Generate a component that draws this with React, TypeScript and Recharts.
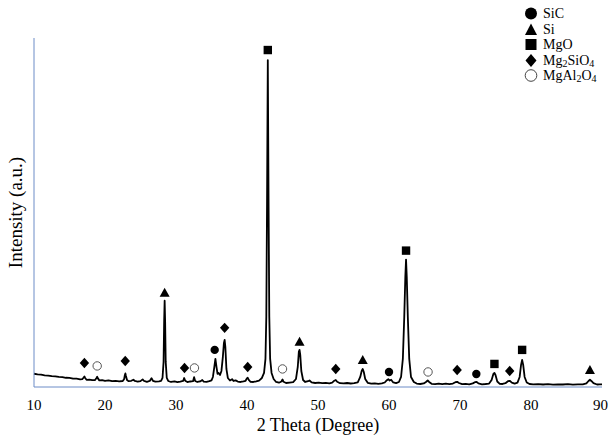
import React from 'react'
import { ComposedChart, Line, Scatter, XAxis, YAxis, Legend } from 'recharts'

// XRD pattern: [2theta, intensity (a.u.)]
const pattern: [number, number][] = [
  [10, 13.2], [10.5, 12.6], [11, 12.3], [11.5, 11.6], [12, 11.4], [12.5, 10.8], [13, 10.6], [13.5, 10.0],
  [14, 9.9], [14.5, 9.2], [15, 9.1], [15.5, 8.4], [16, 8.3], [16.5, 7.7], [16.8, 7.9], [17.0, 9.5],
  [17.1, 10.5], [17.2, 9.0], [17.4, 7.2], [17.8, 7.4], [18.2, 6.8], [18.6, 7.0], [18.8, 9.0], [18.9, 10.2],
  [19.0, 8.6], [19.2, 6.6], [19.6, 6.9], [20.0, 6.2], [20.5, 6.6], [21.0, 5.9], [21.5, 6.2], [22.0, 5.7],
  [22.5, 6.0], [22.7, 8.0], [22.8, 12.0], [22.87, 13.5], [22.95, 11.0], [23.1, 7.0], [23.3, 5.8], [23.7, 6.2],
  [24.0, 7.3], [24.2, 6.0], [24.6, 5.4], [25.0, 5.9], [25.3, 7.6], [25.5, 6.0], [25.9, 5.2], [26.3, 6.0],
  [26.55, 8.8], [26.75, 6.2], [27.1, 5.3], [27.6, 5.6], [27.9, 6.0], [28.1, 9], [28.25, 25], [28.33, 65],
  [28.4, 86], [28.47, 65], [28.55, 25], [28.7, 9], [28.9, 6], [29.3, 5.0], [29.8, 5.6], [30.2, 4.9],
  [30.6, 5.4], [31.0, 6.0], [31.15, 9.0], [31.3, 6.2], [31.6, 4.9], [32.0, 5.5], [32.4, 5.8], [32.55, 9.8],
  [32.7, 6.0], [33.0, 5.0], [33.4, 5.6], [33.7, 7.0], [33.9, 5.4], [34.3, 5.2], [34.7, 5.8], [35.0, 6.6],
  [35.2, 10], [35.4, 20], [35.55, 28], [35.7, 20], [35.85, 13], [36.0, 14], [36.2, 12], [36.4, 16],
  [36.6, 30], [36.75, 44], [36.85, 47], [36.95, 40], [37.1, 18], [37.3, 9], [37.6, 6.5], [37.9, 7.8],
  [38.1, 6.0], [38.4, 6.6], [38.7, 5.4], [39.1, 5.0], [39.5, 5.6], [39.8, 6.2], [40.0, 8.8], [40.1, 9.2],
  [40.25, 7.0], [40.5, 5.2], [40.9, 5.0], [41.3, 5.6], [41.7, 6.4], [42.1, 9], [42.4, 14], [42.6, 28],
  [42.72, 70], [42.82, 180], [42.93, 326], [43.04, 180], [43.14, 70], [43.26, 28], [43.46, 14], [43.75, 8],
  [44.1, 5], [44.5, 4.3], [44.85, 5.5], [45.0, 7.5], [45.15, 5.2], [45.5, 4.0], [46.0, 4.4], [46.5, 4.8],
  [46.9, 8], [47.15, 20], [47.3, 35], [47.4, 37], [47.5, 32], [47.65, 16], [47.9, 7], [48.2, 5],
  [48.6, 5.8], [48.8, 6.5], [49.1, 4.6], [49.6, 4.0], [50.1, 4.3], [50.6, 3.8], [51.1, 4.1], [51.6, 3.7],
  [52.0, 4.4], [52.3, 6.3], [52.5, 7.0], [52.7, 5.2], [53.1, 3.8], [53.6, 3.6], [54.1, 4.0], [54.6, 3.5],
  [55.1, 3.8], [55.6, 4.6], [55.95, 10], [56.15, 16], [56.3, 18], [56.45, 15], [56.65, 8], [57.0, 4.2],
  [57.5, 3.4], [58.0, 3.7], [58.5, 3.2], [59.0, 3.6], [59.4, 4.5], [59.7, 6.8], [59.9, 7.8], [60.1, 6.5],
  [60.3, 7.2], [60.6, 4.5], [61.0, 3.8], [61.4, 5], [61.7, 10], [61.95, 28], [62.15, 70], [62.3, 110],
  [62.4, 127], [62.5, 110], [62.65, 70], [62.85, 28], [63.1, 10], [63.5, 5], [63.9, 3.4], [64.4, 3.0],
  [64.9, 3.6], [65.25, 5.2], [65.45, 6.5], [65.65, 5.0], [66.0, 3.2], [66.5, 2.8], [67.0, 3.4], [67.5, 2.9],
  [68.0, 3.3], [68.5, 2.9], [69.0, 3.4], [69.35, 4.8], [69.6, 5.2], [69.85, 4.0], [70.3, 2.8], [70.8, 3.2],
  [71.3, 2.7], [71.8, 3.6], [72.1, 4.8], [72.35, 5.0], [72.6, 3.6], [73.1, 2.7], [73.6, 3.0], [74.1, 3.4],
  [74.45, 7], [74.7, 13], [74.85, 14], [75.0, 12], [75.25, 5.5], [75.6, 3.2], [76.0, 3.0], [76.4, 3.8],
  [76.75, 5.8], [77.0, 6.2], [77.3, 4.4], [77.7, 3.4], [78.1, 4.4], [78.4, 10], [78.6, 22], [78.75, 27],
  [78.9, 22], [79.1, 10], [79.4, 4.5], [79.8, 3.0], [80.3, 2.7], [81, 2.9], [81.7, 2.5], [82.4, 2.8],
  [83.1, 2.4], [83.8, 2.7], [84.5, 2.5], [85.2, 2.8], [85.9, 2.4], [86.6, 2.7], [87.3, 2.6], [87.8, 3.6],
  [88.1, 6], [88.3, 7.2], [88.5, 6], [88.8, 3.8], [89.3, 2.5], [89.7, 2.7], [90, 2.6],
]

// phase markers: [2theta, marker height]
const sicPeaks: [number, number][] = [[35.45, 37], [60.0, 15], [72.3, 13]]
const siPeaks: [number, number][] = [[28.4, 94], [47.4, 45], [56.3, 27], [88.3, 17]]
const mgoPeaks: [number, number][] = [[42.93, 336], [62.4, 136], [74.85, 23], [78.75, 37]]
const mg2sio4Peaks: [number, number][] = [
  [17.1, 24], [22.85, 26], [31.2, 19], [36.85, 59], [40.1, 20], [52.5, 18], [69.6, 17], [77.0, 16],
]
const mgal2o4Peaks: [number, number][] = [[18.9, 21], [32.6, 19], [45.0, 18], [65.5, 15]]

const phaseNames = ['SiC', 'Si', 'MgO', 'Mg2SiO4', 'MgAl2O4']
const xTicks = [10, 20, 30, 40, 50, 60, 70, 80, 90]

const toRows = (pts: [number, number][]) => pts.map(([t, i]) => ({ t, i }))

const FONT = '"Liberation Serif", "Times New Roman", serif'
const AXIS = '#6d8cc7'

const DotShape = (p: any) => <circle cx={p.cx} cy={p.cy} r={4.2} fill="#000" />
const TriShape = (p: any) => (
  <polygon points={`${p.cx},${p.cy - 5} ${p.cx - 5},${p.cy + 4} ${p.cx + 5},${p.cy + 4}`} fill="#000" />
)
const SquareShape = (p: any) => <rect x={p.cx - 4.2} y={p.cy - 4.2} width={8.4} height={8.4} fill="#000" />
const DiamondShape = (p: any) => (
  <polygon points={`${p.cx},${p.cy - 5.2} ${p.cx + 4.7},${p.cy} ${p.cx},${p.cy + 5.2} ${p.cx - 4.7},${p.cy}`} fill="#000" />
)
const OpenShape = (p: any) => <circle cx={p.cx} cy={p.cy} r={4.2} fill="#fff" stroke="#555" strokeWidth={1} />

const legendIcon = (name: string) => {
  switch (name) {
    case 'SiC':
      return <circle cx={7} cy={7.5} r={6} fill="#000" />
    case 'Si':
      return <polygon points="7,1.5 1,13 13,13" fill="#000" />
    case 'MgO':
      return <rect x={1.5} y={2} width={11} height={11} fill="#000" />
    case 'Mg2SiO4':
      return <polygon points="7,1 12.5,7.5 7,14 1.5,7.5" fill="#000" />
    default:
      return <circle cx={7} cy={7.5} r={5.8} fill="#fff" stroke="#444" strokeWidth={1} />
  }
}

const formula = (name: string) =>
  name.split(/(\d+)/).map((part, k) =>
    /^\d+$/.test(part) ? (
      <sub key={k} style={{ fontSize: 10, verticalAlign: '-2px', lineHeight: 0 }}>{part}</sub>
    ) : (
      <span key={k}>{part}</span>
    )
  )

const renderLegend = (props: any) => {
  const names = (props.payload || []).map((e: any) => e.value)
  return (
    <div style={{ fontFamily: FONT, fontSize: 14, color: '#000', lineHeight: '15.5px' }}>
      {phaseNames.filter((n) => names.includes(n)).map((n) => (
        <div key={n} style={{ display: 'flex', alignItems: 'center' }}>
          <svg width={16} height={15} style={{ marginRight: 3 }}>{legendIcon(n)}</svg>
          <span>{formula(n)}</span>
        </div>
      ))}
    </div>
  )
}

const YLabel = (props: any) => {
  const vb = props.viewBox || { x: 0, y: 38, height: 348 }
  const x = vb.x + 22
  const y = vb.y + vb.height / 2
  return (
    <text x={x} y={y} transform={`rotate(-90, ${x}, ${y})`} textAnchor="middle" fontFamily={FONT} fontSize={19} fill="#000">
      Intensity (a.u.)
    </text>
  )
}

export default function App() {
  return (
    <div style={{ position: 'absolute', left: 0, top: 0, width: 608, height: 436, background: '#fff', overflow: 'hidden' }}>
      <ComposedChart width={608} height={436} margin={{ top: 38, right: 6, bottom: 0, left: 0 }}>
        <XAxis
          dataKey="t"
          type="number"
          domain={[10, 90]}
          ticks={xTicks}
          tickLine={false}
          axisLine={{ stroke: AXIS }}
          tickMargin={6}
          height={49}
          tick={{ fontFamily: FONT, fontSize: 15, fill: '#000' }}
          label={{ value: '2 Theta (Degree)', position: 'insideBottom', offset: 5, fontFamily: FONT, fontSize: 18, fill: '#000' }}
        />
        <YAxis
          dataKey="i"
          type="number"
          domain={[0, 348]}
          tick={false}
          tickLine={false}
          axisLine={{ stroke: AXIS }}
          width={34}
          label={{ content: YLabel }}
        />
        <Legend
          layout="vertical"
          align="center"
          verticalAlign="middle"
          content={renderLegend}
          wrapperStyle={{ top: 6, left: 524, width: 90 }}
        />
        <Line
          data={toRows(pattern)}
          dataKey="i"
          type="linear"
          stroke="#000"
          strokeWidth={1.8}
          strokeLinejoin="round"
          dot={false}
          activeDot={false}
          legendType="none"
          isAnimationActive={false}
        />
        <Scatter name="SiC" data={toRows(sicPeaks)} dataKey="i" shape={DotShape} isAnimationActive={false} />
        <Scatter name="Si" data={toRows(siPeaks)} dataKey="i" shape={TriShape} isAnimationActive={false} />
        <Scatter name="MgO" data={toRows(mgoPeaks)} dataKey="i" shape={SquareShape} isAnimationActive={false} />
        <Scatter name="Mg2SiO4" data={toRows(mg2sio4Peaks)} dataKey="i" shape={DiamondShape} isAnimationActive={false} />
        <Scatter name="MgAl2O4" data={toRows(mgal2o4Peaks)} dataKey="i" shape={OpenShape} isAnimationActive={false} />
      </ComposedChart>
    </div>
  )
}
